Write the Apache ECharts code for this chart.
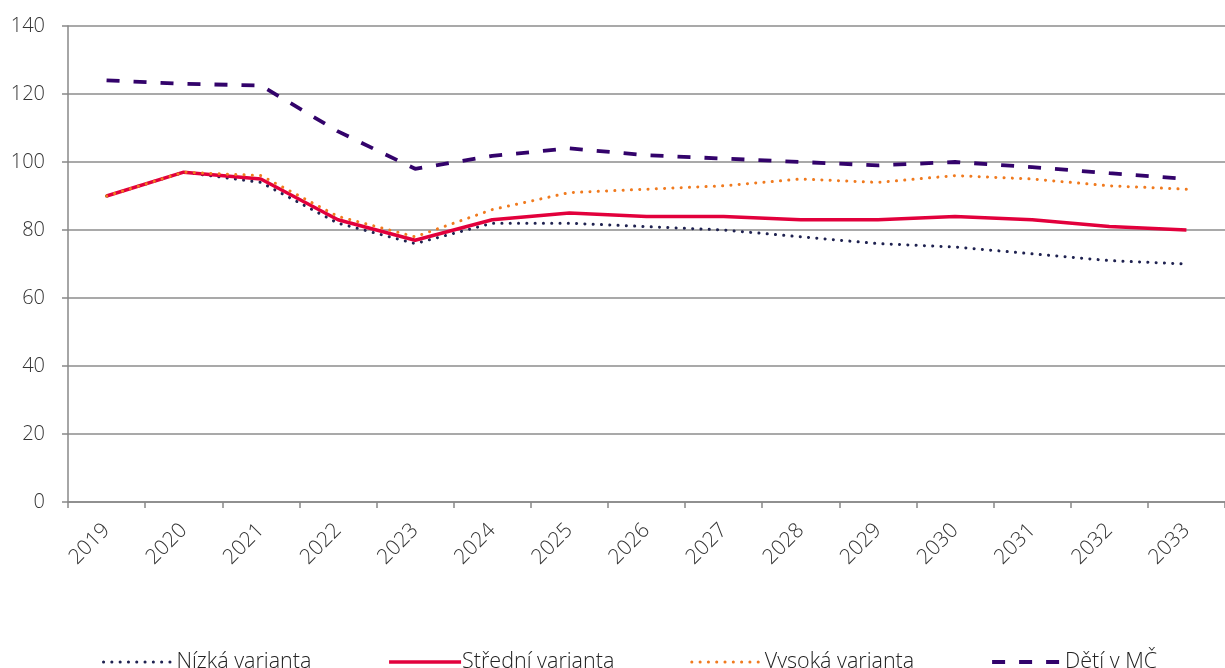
<!DOCTYPE html>
<html><head><meta charset="utf-8">
<script src="https://cdn.jsdelivr.net/npm/echarts@6/dist/echarts.min.js"></script>
<style>html,body{margin:0;padding:0;background:#fff}#c{width:1225px;height:668px}</style>
</head><body><div id="c"></div>
<script>
const years = ['2019','2020','2021','2022','2023','2024','2025','2026','2027','2028','2029','2030','2031','2032','2033'];
const nizka   = [90, 97, 94, 82, 76, 82, 82, 81, 80, 78, 76, 75, 73, 71, 70];
const stredni = [90, 97, 95, 83, 77, 83, 85, 84, 84, 83, 83, 84, 83, 81, 80];
const vysoka  = [90, 97, 96, 84, 78, 86, 91, 92, 93, 95, 94, 96, 95, 93, 92];
const deti    = [124, 123, 122.5, 109, 98, 101.8, 104, 102, 101, 100, 99, 100, 98.5, 96.7, 95];
const seriesNames = ['Nízká varianta','Střední varianta','Vysoká varianta','Dětí v MČ'];
const yTicks = [0, 20, 40, 60, 80, 100, 120, 140];

const font = '"Open Sans", "Segoe UI", sans-serif';
const colors = ['#1f2250', '#e2003c', '#f07a1e', '#33036b'];
const styles = [
  { width: 3, type: [0.1, 8.2], cap: 'round' },
  { width: 3.5, type: 'solid', cap: 'butt' },
  { width: 3, type: [0.1, 8.2], cap: 'round' },
  { width: 3.8, type: [13, 14], cap: 'butt' }
];
const seriesData = [nizka, stredni, vysoka, deti];

const chart = echarts.init(document.getElementById('c'));
chart.setOption({
  animation: false,
  backgroundColor: '#fff',
  grid: { left: 68, right: -9, top: 26, bottom: 166, containLabel: false },
  legend: {
    top: 646, left: 97,
    itemWidth: 72, itemHeight: 14, itemGap: 76,
    itemStyle: { opacity: 0 },
    textStyle: { fontFamily: font, fontSize: 21.5, fontWeight: 300, color: '#222', padding: [0,0,0,-4] },
    data: seriesNames.map((n, i) => ({
      name: n,
      itemStyle: { opacity: 0 },
      lineStyle: { color: colors[i], width: styles[i].width, type: styles[i].type, cap: styles[i].cap }
    }))
  },
  xAxis: {
    type: 'category', data: years, boundaryGap: true,
    axisLine: { lineStyle: { color: '#888', width: 1.5 } },
    axisTick: { show: true, length: 6, lineStyle: { color: '#888', width: 1.5 } },
    axisLabel: { rotate: 45, margin: 25, fontFamily: font, fontSize: 21, fontWeight: 300, color: '#333' }
  },
  yAxis: {
    type: 'value', min: 0, max: 140, interval: 20,
    axisLine: { show: true, lineStyle: { color: '#888', width: 1.5 } },
    axisTick: { show: true, length: 6, lineStyle: { color: '#888', width: 1.5 } },
    splitLine: { lineStyle: { color: '#8c8c8c', width: 1.5 } },
    axisLabel: { margin: 23, fontFamily: font, fontSize: 20, fontWeight: 300, color: '#333',
      formatter: v => yTicks.includes(v) ? String(v) : '' }
  },
  series: seriesNames.map((n, i) => ({
    name: n, type: 'line', data: seriesData[i], symbol: 'none', z: 2 + i,
    itemStyle: { color: colors[i] },
    lineStyle: Object.assign({ color: colors[i] }, styles[i])
  }))
});
</script></body></html>
